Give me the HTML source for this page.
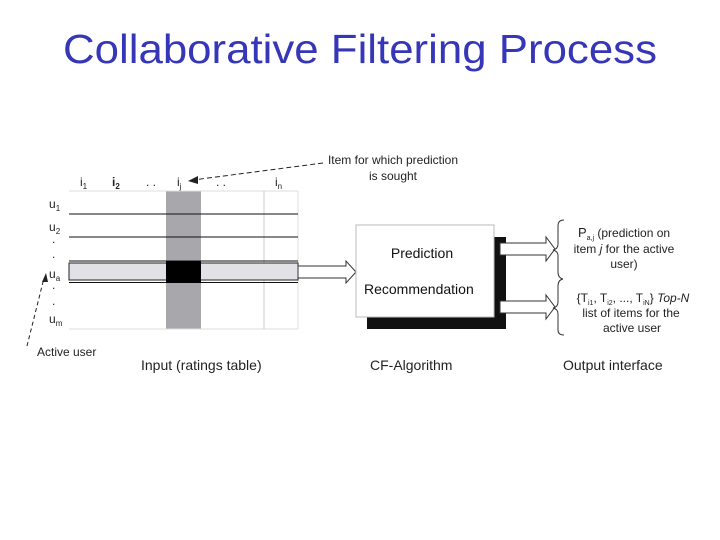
<!DOCTYPE html>
<html><head><meta charset="utf-8"><style>
html,body{margin:0;padding:0;background:#fff;}
svg{display:block;font-family:"Liberation Sans",Arial,sans-serif;}
</style></head><body>
<svg width="720" height="540" viewBox="0 0 720 540" xmlns="http://www.w3.org/2000/svg">
<rect width="720" height="540" fill="#fff"/>
<text x="63" y="63" font-size="41" fill="#3636b8" textLength="594" lengthAdjust="spacingAndGlyphs">Collaborative Filtering Process</text>

<rect x="69" y="191" width="229" height="138" fill="#fff"/>
<rect x="166" y="191" width="35" height="138" fill="#a8a8ac"/>
<line x1="69" y1="191" x2="298" y2="191" stroke="#ddd" stroke-width="1"/>
<line x1="69" y1="329" x2="298" y2="329" stroke="#ddd" stroke-width="1"/>
<line x1="298" y1="191" x2="298" y2="329" stroke="#ddd" stroke-width="1"/>
<line x1="264" y1="191" x2="264" y2="329" stroke="#ccc" stroke-width="1"/>
<line x1="69" y1="214" x2="298" y2="214" stroke="#111" stroke-width="1"/>
<line x1="69" y1="237" x2="298" y2="237" stroke="#111" stroke-width="1"/>
<rect x="69" y="263" width="229" height="17" fill="#e2e2e6" stroke="#222" stroke-width="1"/>
<line x1="69" y1="261" x2="298" y2="261" stroke="#111" stroke-width="1"/>
<line x1="69" y1="282.5" x2="298" y2="282.5" stroke="#111" stroke-width="1"/>
<rect x="166" y="261" width="35" height="22" fill="#000"/>

<g font-size="12" fill="#222">
<text x="80" y="186">i<tspan font-size="8" dy="3">1</tspan></text>
<text x="112" y="186" font-weight="bold">i<tspan font-size="8" dy="3">2</tspan></text>
<text x="146" y="186">. .</text>
<text x="177" y="186">i<tspan font-size="8" dy="3">j</tspan></text>
<text x="216" y="186">. .</text>
<text x="275" y="186">i<tspan font-size="8" dy="3">n</tspan></text>
<text x="49" y="208">u<tspan font-size="8" dy="3">1</tspan></text>
<text x="49" y="231">u<tspan font-size="8" dy="3">2</tspan></text>
<text x="52" y="243">.</text>
<text x="52" y="258">.</text>
<text x="49" y="278">u<tspan font-size="8" dy="3">a</tspan></text>
<text x="52" y="289">.</text>
<text x="52" y="305">.</text>
<text x="49" y="323">u<tspan font-size="8" dy="3">m</tspan></text>
<text x="37" y="356">Active user</text>
<text x="141" y="370" font-size="14">Input (ratings table)</text>
<text x="370" y="370" font-size="14">CF-Algorithm</text>
<text x="563" y="370" font-size="14">Output interface</text>
<text x="393" y="164" text-anchor="middle">Item for which prediction</text>
<text x="393" y="180" text-anchor="middle">is sought</text>
</g>

<line x1="323" y1="163" x2="193" y2="180" stroke="#222" stroke-dasharray="5,3"/>
<polygon points="188,181 198,176 198,184" fill="#222"/>
<line x1="27" y1="346" x2="44" y2="278" stroke="#222" stroke-dasharray="4,3"/>
<polygon points="46,273 42,282 48,282" fill="#222"/>

<polygon points="298,266 346,266 346,261 356,272 346,283 346,278 298,278" fill="#fff" stroke="#333"/>

<rect x="367" y="237" width="139" height="92" fill="#111"/>
<rect x="356" y="225" width="138" height="92" fill="#fff" stroke="#bbb"/>
<text x="422" y="258" font-size="14" text-anchor="middle" fill="#111">Prediction</text>
<text x="364" y="294" font-size="14" fill="#111">Recommendation</text>

<polygon points="500,243 546,243 546,237 555,249 546,261 546,255 500,255" fill="#fff" stroke="#333"/>
<polygon points="500,301 546,301 546,295 555,307 546,319 546,313 500,313" fill="#fff" stroke="#333"/>

<path d="M564,220 Q558,220 558,226 L558,244 Q558,249 553,250 Q558,251 558,256 L558,272 Q558,278 563,279" fill="none" stroke="#333"/>
<path d="M563,279 Q558,280 558,286 L558,302 Q558,307 553,308 Q558,309 558,314 L558,330 Q558,335 564,335" fill="none" stroke="#333"/>

<g font-size="12" fill="#222" text-anchor="middle">
<text x="624" y="237"><tspan font-size="13">P</tspan><tspan font-size="7" dy="3">a,j</tspan><tspan dy="-3"> (prediction on</tspan></text>
<text x="624" y="253">item <tspan font-style="italic">j</tspan> for the active</text>
<text x="624" y="268">user)</text>
<text x="633" y="302">{T<tspan font-size="7" dy="3">i1</tspan><tspan dy="-3">, T</tspan><tspan font-size="7" dy="3">i2</tspan><tspan dy="-3">, ..., T</tspan><tspan font-size="7" dy="3">iN</tspan><tspan dy="-3">} </tspan><tspan font-style="italic">Top-N</tspan></text>
<text x="631" y="317">list of items for the</text>
<text x="632" y="332">active user</text>
</g>
</svg>
</body></html>
